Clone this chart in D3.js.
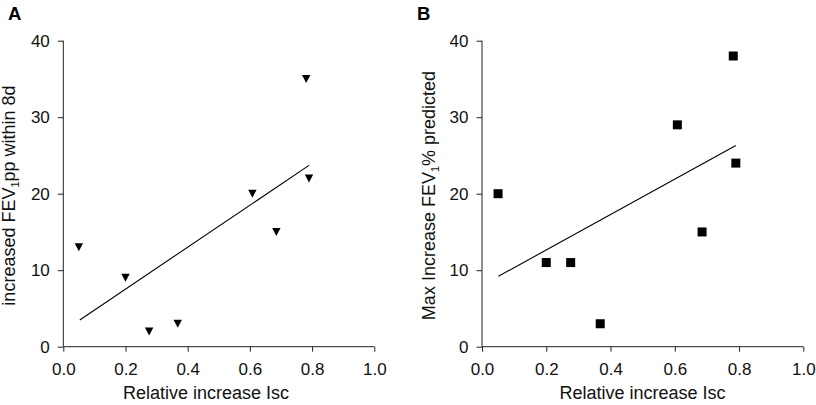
<!DOCTYPE html>
<html><head><meta charset="utf-8">
<script src="https://cdn.jsdelivr.net/npm/d3@7"></script>
<style>body{margin:0;background:#fff}svg{display:block;font-family:"Liberation Sans",Arial,sans-serif}</style>
</head><body>
<svg id="c" width="816" height="405"></svg>
<script>
const isc = [0.05, 0.20, 0.276, 0.368, 0.608, 0.685, 0.781, 0.790];
const fevA = [13, 9, 2, 3, 20, 15, 35, 22];
const iscB = [0.05, 0.20, 0.276, 0.368, 0.608, 0.685, 0.782, 0.790];
const fevB = [20, 11, 11, 3, 29, 15, 38, 24];
const fitA = [[0.053, 3.5], [0.790, 23.7]];
const fitB = [[0.051, 9.2], [0.790, 26.3]];
const xTicks = [0, 0.2, 0.4, 0.6, 0.8, 1.0];
const yTicks = [0, 10, 20, 30, 40];

const svg = d3.select("#c");

function panel(opts){
  const x = d3.scaleLinear().domain([0,1]).range([opts.x0, opts.x1]);
  const y = d3.scaleLinear().domain([0,40]).range([346.7, 40.7]);
  const g = svg.append("g");
  const xa = g.append("g").attr("transform",`translate(0,${y(0)})`)
    .call(d3.axisBottom(x).tickValues(xTicks).tickFormat(d3.format(".1f")).tickSizeInner(5).tickSizeOuter(0).tickPadding(11.5));
  const ya = g.append("g").attr("transform",`translate(${x(0)},0)`)
    .call(d3.axisLeft(y).tickValues(yTicks).tickFormat(d3.format("d")).tickSizeInner(5.5).tickSizeOuter(0).tickPadding(8));
  [xa, ya].forEach(a=>{
    a.selectAll("path,line").attr("stroke","#222").attr("stroke-width",1);
    a.selectAll("text").attr("font-size","17px").attr("fill","#111").attr("font-family","Liberation Sans, Arial, sans-serif");
  });
  xa.select(".domain").attr("d", `M${x(0)},0H${x(1)}`);
  ya.select(".domain").attr("d", `M0,${y(0)}V${y(40)}`);

  // fit line
  g.append("line")
    .attr("x1", x(opts.fit[0][0])).attr("y1", y(opts.fit[0][1]))
    .attr("x2", x(opts.fit[1][0])).attr("y2", y(opts.fit[1][1]))
    .attr("stroke","#000").attr("stroke-width",1.1);

  const pts = opts.xs.map((v,i)=>({x:v, y:opts.ys[i]}));
  if(opts.marker==="tri"){
    g.selectAll("path.pt").data(pts).enter().append("path").attr("class","pt")
      .attr("d", d=>{const cx=x(d.x), cy=y(d.y); return `M${cx-4.2},${cy-4}L${cx+4.2},${cy-4}L${cx},${cy+4}Z`;})
      .attr("fill","#000");
  } else {
    g.selectAll("rect.pt").data(pts).enter().append("rect").attr("class","pt")
      .attr("x", d=>x(d.x)-4.5).attr("y", d=>y(d.y)-4.5).attr("width",9).attr("height",9).attr("fill","#000");
  }

  // panel letter
  svg.append("text").attr("x", opts.letterX).attr("y", 20).attr("font-size","18.5px").attr("font-weight","bold").text(opts.letter);
  // x label
  svg.append("text").attr("x", opts.xlabX).attr("y", 399).attr("text-anchor","middle").attr("font-size","18px").attr("fill","#111").text("Relative increase Isc");
  // y label
  const t = svg.append("text").attr("transform",`translate(${opts.ylabX},195.5) rotate(-90)`).attr("text-anchor","middle").attr("font-size","18px").attr("fill","#111");
  t.append("tspan").text(opts.ylab[0]);
  t.append("tspan").attr("font-size","11px").attr("dy",4).text("1");
  t.append("tspan").attr("dy",-4).text(opts.ylab[1]);
}

panel({x0:63.3, x1:374.3, xs:isc, ys:fevA, fit:fitA, marker:"tri", letter:"A", letterX:8, xlabX:206, ylabX:15,
  ylab:["increased FEV","pp within 8d"]});
panel({x0:482, x1:803.3, xs:iscB, ys:fevB, fit:fitB, marker:"sq", letter:"B", letterX:417, xlabX:642.5, ylabX:435,
  ylab:["Max Increase FEV","% predicted"]});
</script>
</body></html>
